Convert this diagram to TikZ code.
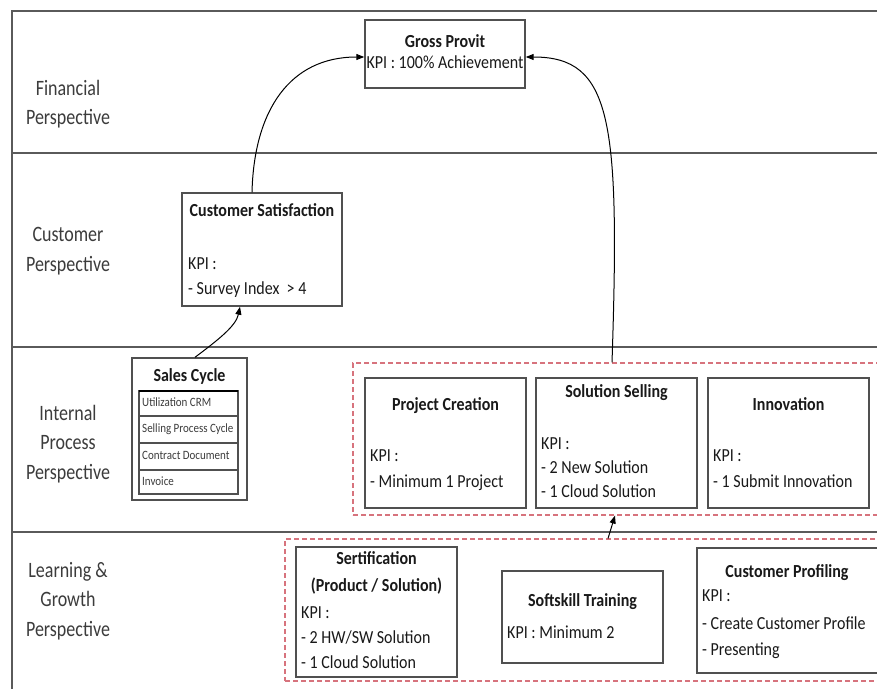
\documentclass[tikz,border=0pt]{standalone}
\usepackage{fontspec}
\setmainfont{Carlito}
\usetikzlibrary{arrows.meta}
\definecolor{framec}{RGB}{90,90,90}
\definecolor{boxc}{RGB}{80,80,80}
\definecolor{dashc}{RGB}{215,115,125}
\definecolor{lblc}{RGB}{60,60,60}
\definecolor{txtc}{RGB}{25,25,25}
\begin{document}
\begin{tikzpicture}[x=1pt,y=-1pt,
  lane/.style={draw=framec,line width=2.6pt},
  kbox/.style={draw=boxc,line width=1.4pt,fill=white,inner sep=0pt},
  dbox/.style={draw=dashc,line width=1.1pt,dash pattern=on 5pt off 3pt,inner sep=0pt},
  lbl/.style={font=\fontsize{18}{24}\selectfont,text=lblc,align=center,yscale=1.22,inner sep=0pt},
  ttl/.style={font=\bfseries\fontsize{16}{20}\selectfont,text=txtc,inner sep=0pt,text height=11.5pt,text depth=3.5pt,yscale=1.15},
  txt/.style={font=\fontsize{16}{20}\selectfont,text=txtc,inner sep=0pt,anchor=west,text height=11.5pt,text depth=3.5pt,yscale=1.15},
  row/.style={font=\fontsize{11}{13}\selectfont,text=lblc,inner sep=0pt,anchor=west,text height=8pt,text depth=2.5pt,yscale=1.15},
  arr/.style={draw=black,line width=1pt,-{Triangle[length=8pt,width=6pt]}}
]
\useasboundingbox (0,0) rectangle (877,688);
\clip (0,0) rectangle (877,688);
\fill[white] (0,0) rectangle (877,688);

% lanes
\draw[lane] (12,700) -- (12,11) -- (890,11);
\draw[lane] (12,153) -- (890,153);
\draw[lane] (12,347) -- (890,347);
\draw[lane] (12,532) -- (890,532);

% lane labels
\node[lbl] (lf) at (68,104) {Financial\\Perspective};
\node[lbl] (lc) at (68,251) {Customer\\Perspective};
\node[lbl] (li) at (68,444) {Internal\\Process\\Perspective};
\node[lbl] (ll) at (68,601) {Learning \&\\Growth\\Perspective};

% dashed groups
\node[dbox,minimum width=540pt,minimum height=152pt] (ib) at (623,439) {};
\node[dbox,minimum width=608pt,minimum height=142pt] (lb) at (589,610) {};

% Gross Provit
\node[kbox,minimum width=160pt,minimum height=68pt] (gp) at (445,54) {};
\node[ttl] (gpt) at (445,43) {Gross Provit};
\node[txt,anchor=center] (gp1) at (445,64) {KPI : 100\% Achievement};

% Customer Satisfaction
\node[kbox,minimum width=160pt,minimum height=113pt] (cs) at (262,249.5) {};
\node[ttl] (cst) at (262,212) {Customer Satisfaction};
\node[txt] (cs1) at (188,265) {KPI :};
\node[txt] (cs2) at (188,290) {- Survey Index \ > 4};

% Sales Cycle
\node[kbox,minimum width=115pt,minimum height=142pt] (sc) at (189.5,429) {};
\node[ttl] (sct) at (189.5,377) {Sales Cycle};
\draw[boxc,line width=1.1pt] (139,391) rectangle (238,494);
\draw[boxc,line width=1.1pt] (139,416) -- (238,416) (139,443) -- (238,443) (139,470) -- (238,470);
\draw[black,line width=2.6pt] (139,391) -- (238,391);
\node[row] (r1) at (142,403.5) {Utilization CRM};
\node[row] (r2) at (142,429.5) {Selling Process Cycle};
\node[row] (r3) at (142,456.5) {Contract Document};
\node[row] (r4) at (142,482) {Invoice};

% Internal process boxes
\node[kbox,minimum width=161pt,minimum height=130pt] (pc) at (445.5,443) {};
\node[ttl] (pct) at (445.5,406) {Project Creation};
\node[txt] (pc1) at (370,457) {KPI :};
\node[txt] (pc2) at (370,483) {- Minimum 1 Project};

\node[kbox,minimum width=161pt,minimum height=130pt] (ss) at (616.5,443) {};
\node[ttl] (sst) at (616.5,393) {Solution Selling};
\node[txt] (ss1) at (541,445) {KPI :};
\node[txt] (ss2) at (541,469) {- 2 New Solution};
\node[txt] (ss3) at (541,493) {- 1 Cloud Solution};

\node[kbox,minimum width=161pt,minimum height=130pt] (in) at (788.5,443) {};
\node[ttl] (int) at (788.5,406) {Innovation};
\node[txt] (in1) at (713,457) {KPI :};
\node[txt] (in2) at (713,483) {- 1 Submit Innovation};

% Learning boxes
\node[kbox,minimum width=161pt,minimum height=130pt] (se) at (376.5,612) {};
\node[ttl] (set1) at (376.5,560) {Sertification};
\node[ttl] (set2) at (376.5,587) {(Product / Solution)};
\node[txt] (se1) at (301,614) {KPI :};
\node[txt] (se2) at (301,639) {- 2 HW/SW Solution};
\node[txt] (se3) at (301,664) {- 1 Cloud Solution};

\node[kbox,minimum width=161pt,minimum height=92pt] (st) at (582.5,617) {};
\node[ttl] (stt) at (582.5,602) {Softskill Training};
\node[txt] (st1) at (507,634) {KPI : Minimum 2};

\node[kbox,minimum width=183pt,minimum height=125pt] (cp) at (788.5,610.5) {};
\node[ttl] (cpt) at (787,573) {Customer Profiling};
\node[txt] (cp1) at (702,597) {KPI :};
\node[txt] (cp2) at (702,625) {- Create Customer Profile};
\node[txt] (cp3) at (702,651) {- Presenting};

% connectors
\draw[arr] ([xshift=-10pt]cs.north) .. controls (254,110) and (290,57) .. ([yshift=-3pt]gp.west);
\draw[arr] (ib.north -| 612,0) .. controls (620,120) and (612,57) .. ([yshift=-3pt]gp.east);
\draw[arr] ([xshift=5.5pt]sc.north) .. controls (218,340) and (236,326) .. ([xshift=-22pt]cs.south);
\draw[arr] (lb.north -| 608,0) -- (ib.south -| 615,0);
\end{tikzpicture}
\end{document}
